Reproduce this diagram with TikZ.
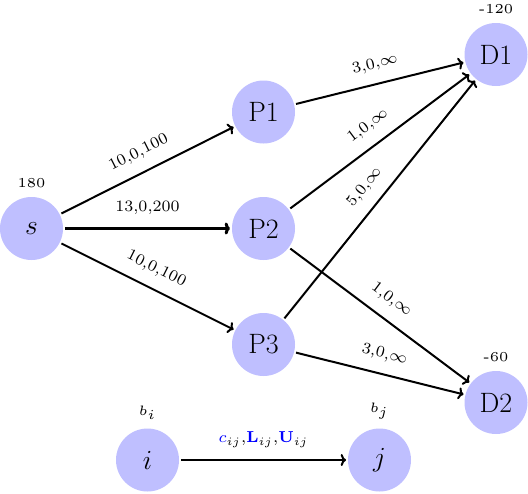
\documentclass[tikz,border=0pt]{standalone}
\definecolor{netblue}{RGB}{191, 191, 255}
\usepackage{tikz}
\usetikzlibrary{arrows.meta, positioning}
\usepackage{amsmath, amssymb}

\tikzset{
  netnode/.style={circle, fill=netblue, minimum size=47.25pt, inner sep=0pt, outer sep=1.5pt, font=\fontsize{21}{25}\selectfont},
  flow/.style={-{To[length=4pt, width=9pt]}, line width=1.5pt},
  cost/.style={sloped, font=\scriptsize, scale=1.7, above=2.6pt},
  supplytext/.style={font=\tiny, scale=2.05},
  supply/.style={label={[supplytext]above:#1}},
  label distance=-1pt
}

\begin{document}
\begin{tikzpicture}[x=0.75pt, y=-0.75pt]
  \useasboundingbox (0,0) rectangle (528,493);

  \node[netnode, supply=180] (s) at (31.5,228.5) {$s$};
  \node[netnode] (P1) at (263.5,112) {P1};
  \node[netnode] (P2) at (263.5,228.5) {P2};
  \node[netnode] (P3) at (263.5,344.5) {P3};
  \node[netnode, supply=-120] (D1) at (496,54.5) {D1};
  \node[netnode, supply=-60] (D2) at (496,402.5) {D2};
  \node[netnode, supply=$b_i$] (i) at (147.5,460) {$i$};
  \node[netnode, supply=$b_j$] (j) at (379.5,460) {$j$};

  \draw[flow] (s) -- node[cost] {10,0,100} (P1);
  \draw[flow, line width=2.25pt] (s) -- node[cost] {13,0,200} (P2);
  \draw[flow] (s) -- node[cost] {10,0,100} (P3);
  \draw[flow] (P1) -- node[cost] {3,0,$\infty$} (D1);
  \draw[flow] (P2) -- node[cost] {1,0,$\infty$} (D1);
  \draw[flow] (P3) -- node[cost] {5,0,$\infty$} (D1);
  \draw[flow] (P2) -- node[cost] {1,0,$\infty$} (D2);
  \draw[flow] (P3) -- node[cost] {3,0,$\infty$} (D2);
  \draw[flow] (i) -- node[cost] {$\color{blue}c\color{black}_{ij}$,$\color{blue}\mathbf{L}\color{black}_{ij}$,$\color{blue}\mathbf{U}\color{black}_{ij}$} (j);
\end{tikzpicture}
\end{document}
